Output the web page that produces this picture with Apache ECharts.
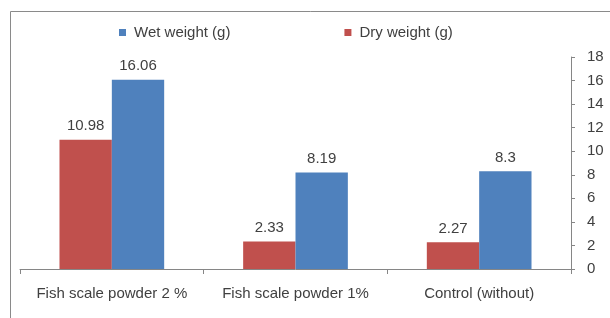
<!DOCTYPE html>
<html>
<head>
<meta charset="utf-8">
<script src="https://cdn.jsdelivr.net/npm/echarts@6/dist/echarts.min.js"></script>
<style>
html,body{margin:0;padding:0;background:#fff;}
#c{width:610px;height:318px;}
</style>
</head>
<body>
<div id="c"></div>
<script>
const categories = ['Fish scale powder 2 %', 'Fish scale powder 1%', 'Control (without)'];
const dryWeight = [10.98, 2.33, 2.27];
const wetWeight = [16.06, 8.19, 8.3];
const yMin = 0, yMax = 18, yStep = 2;

const FONT = '"Liberation Sans", Arial, sans-serif';
const TXT = '#404040';
const AX = '#868686';

const chart = echarts.init(document.getElementById('c'), null, {renderer: 'canvas'});
chart.setOption({
  animation: false,
  backgroundColor: '#fff',
  textStyle: {fontFamily: FONT},
  graphic: [{
    type: 'rect',
    shape: {x: 10.5, y: 11.5, width: 700, height: 400},
    style: {fill: 'none', stroke: '#8a8a8a', lineWidth: 1},
    silent: true
  }],
  legend: {
    data: ['Wet weight (g)', 'Dry weight (g)'],
    left: 114, top: 20,
    icon: 'rect', itemWidth: 7, itemHeight: 7,
    itemGap: 114,
    textStyle: {fontFamily: FONT, fontSize: 15, color: TXT, padding: [0,0,0,3]}
  },
  grid: {left: 20, right: 39, top: 57, bottom: 49, containLabel: false},
  xAxis: {
    type: 'category', data: categories,
    axisLine: {lineStyle: {color: AX, width: 1}},
    axisTick: {show: true, length: 5, lineStyle: {color: AX}},
    axisLabel: {fontFamily: FONT, fontSize: 15, color: TXT, margin: 17, interval: 0}
  },
  yAxis: {
    type: 'value', position: 'right', min: yMin, max: yMax, interval: yStep,
    splitLine: {show: false},
    axisLine: {show: true, lineStyle: {color: AX, width: 1}},
    axisTick: {show: true, length: 4, lineStyle: {color: AX}},
    axisLabel: {fontFamily: FONT, fontSize: 15, color: TXT, margin: 16}
  },
  series: [
    {
      name: 'Dry weight (g)', type: 'bar', data: dryWeight,
      itemStyle: {color: '#C0504D'},
      barGap: '0%', barCategoryGap: '43%',
      label: {show: true, position: 'top', distance: 6, fontFamily: FONT, fontSize: 15, color: TXT}
    },
    {
      name: 'Wet weight (g)', type: 'bar', data: wetWeight,
      itemStyle: {color: '#4F81BD'},
      barGap: '0%', barCategoryGap: '43%',
      label: {show: true, position: 'top', distance: 6, fontFamily: FONT, fontSize: 15, color: TXT}
    }
  ]
});
</script>
</body>
</html>
